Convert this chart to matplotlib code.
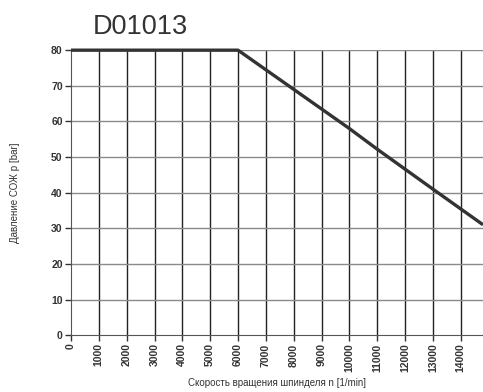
import matplotlib.pyplot as plt
from matplotlib import rcParams

rcParams["font.family"] = ["Liberation Sans", "DejaVu Sans"]

speed = [0, 6000, 7000, 8000, 9000, 10000, 11000, 12000, 13000, 14800]
pressure = [80, 80, 74.5, 69, 63.5, 58, 52.2, 46.6, 41, 31]
xticks = list(range(0, 15000, 1000))
yticks = list(range(0, 90, 10))

fig = plt.figure(figsize=(4.83, 3.92), dpi=100)
ax = fig.add_axes([0.147, 0.145, 0.853, 0.727])

ax.plot(speed, pressure, color="#333333", lw=2.4, solid_capstyle="butt", zorder=3, clip_on=False)

ax.set_xlim(0, 14800)
ax.set_ylim(0, 80)
ax.set_xticks(xticks)
ax.set_yticks(yticks)
ax.set_xticklabels([str(t) for t in xticks], rotation=90, fontsize=7.5, fontweight="bold")
ax.set_yticklabels([str(t) for t in yticks], fontsize=7.5, fontweight="bold")
ax.tick_params(length=4, width=1, colors="#333333", pad=2)

for t in xticks[1:]:
    ax.axvline(t, color="#222222", lw=1, zorder=1)
for t in yticks[1:]:
    ax.axhline(t, color="#8a8a8a", lw=1, zorder=1)

for s in ["top", "right"]:
    ax.spines[s].set_visible(False)
ax.spines["left"].set_color("#555555")
ax.spines["bottom"].set_color("#555555")

ax.set_xlabel("Скорость вращения шпинделя n [1/min]", fontsize=7, color="#333333", labelpad=4)
ax.set_ylabel("Давление СОЖ p [bar]", fontsize=7, color="#333333", labelpad=22)
fig.text(0.29, 0.93, "D01013", fontsize=19.5, color="#333333", ha="center", va="center")

fig.savefig("out.png", dpi=100)
